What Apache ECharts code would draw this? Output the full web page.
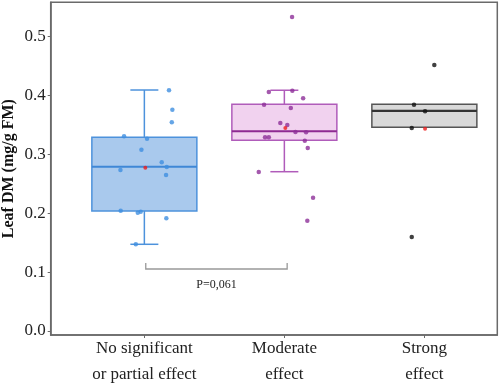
<!DOCTYPE html>
<html>
<head>
<meta charset="utf-8">
<script src="https://cdn.jsdelivr.net/npm/echarts@6/dist/echarts.min.js"></script>
<style>html,body{margin:0;padding:0;background:#fff}#c{width:500px;height:383px}</style>
</head>
<body>
<div id="c"></div>
<script>
// ---- data ----
var categories = ['No significant\nor partial effect', 'Moderate\neffect', 'Strong\neffect'];
var yTicks = [0, 0.1, 0.2, 0.3, 0.4, 0.5];
// box stats: [position, lowerWhisker, Q1, median, Q3, upperWhisker]
var boxStats = [
  [1, 0.1473, 0.2040, 0.2790, 0.3290, 0.4094],
  [2, 0.2706, 0.3240, 0.3393, 0.3852, 0.4090],
  [3, 0.3461, 0.3461, 0.3738, 0.3852, 0.3852]
];
// jittered points [x, value]
var pointsNoEffect = [
  [1.176, 0.409], [1.200, 0.376], [1.196, 0.3546], [0.855, 0.3308], [1.019, 0.3267],
  [0.979, 0.308], [1.124, 0.2866], [1.160, 0.2786], [0.829, 0.2735], [1.155, 0.265],
  [0.831, 0.2044], [0.953, 0.201], [0.974, 0.2027], [1.157, 0.1915], [0.939, 0.1473]
];
var pointsModerate = [
  [2.055, 0.5335], [1.889, 0.406], [2.057, 0.4083], [2.134, 0.3953], [1.855, 0.3845],
  [2.046, 0.3789], [1.971, 0.3534], [2.021, 0.350], [2.079, 0.3381], [2.155, 0.3376],
  [1.862, 0.3291], [1.889, 0.3291], [2.146, 0.3233], [2.167, 0.3109], [1.817, 0.2701],
  [2.205, 0.2265], [2.164, 0.1874]
];
var pointsStrong = [
  [3.071, 0.4519], [2.926, 0.3845], [3.005, 0.3733], [2.910, 0.3449], [2.910, 0.1597]
];
var means = [[1.007, 0.2774], [2.007, 0.3449], [3.005, 0.3436]];
// significance bracket
var bracketX = [1.01, 2.02];
var bracketY = [0.1053, 0.1155];
var bracketLabel = 'P=0,061';
var bracketLabelY = 0.078;

// ---- styles ----
var boxFill = ['#a9c9ed', '#f1d2ef', '#d9d9d9'];
var boxStroke = ['#4d92dc', '#b05cba', '#555555'];
var medianColor = ['#3f87d6', '#8e2a92', '#333333'];
var pointColor = ['#3f8fe0', '#8d2f98', '#111111'];
var serif = '"Liberation Serif","DejaVu Serif",serif';

var chart = echarts.init(document.getElementById('c'));

function renderBox(params, api) {
  var i = params.dataIndex;
  var x = api.value(0);
  var lo = api.coord([x, api.value(1)]);
  var q1 = api.coord([x, api.value(2)]);
  var md = api.coord([x, api.value(3)]);
  var q3 = api.coord([x, api.value(4)]);
  var hi = api.coord([x, api.value(5)]);
  var halfBox = (api.coord([x + 0.375, 0])[0] - api.coord([x, 0])[0]);
  var halfCap = (api.coord([x + 0.1, 0])[0] - api.coord([x, 0])[0]);
  var cx = q1[0];
  var stroke = boxStroke[i];
  var children = [];
  if (hi[1] < q3[1] - 0.5) {
    children.push({type: 'line', shape: {x1: cx, y1: q3[1], x2: cx, y2: hi[1]}, style: {stroke: stroke, lineWidth: 1.5}});
    children.push({type: 'line', shape: {x1: cx - halfCap, y1: hi[1], x2: cx + halfCap, y2: hi[1]}, style: {stroke: stroke, lineWidth: 1.5}});
  }
  if (lo[1] > q1[1] + 0.5) {
    children.push({type: 'line', shape: {x1: cx, y1: q1[1], x2: cx, y2: lo[1]}, style: {stroke: stroke, lineWidth: 1.5}});
    children.push({type: 'line', shape: {x1: cx - halfCap, y1: lo[1], x2: cx + halfCap, y2: lo[1]}, style: {stroke: stroke, lineWidth: 1.5}});
  }
  children.push({type: 'rect', shape: {x: cx - halfBox, y: q3[1], width: 2 * halfBox, height: q1[1] - q3[1]},
    style: {fill: boxFill[i], stroke: stroke, lineWidth: 1.5}});
  children.push({type: 'line', shape: {x1: cx - halfBox, y1: md[1], x2: cx + halfBox, y2: md[1]},
    style: {stroke: medianColor[i], lineWidth: 2.2}});
  return {type: 'group', children: children};
}

function renderBracket(params, api) {
  var a = api.coord([bracketX[0], bracketY[0]]);
  var b = api.coord([bracketX[1], bracketY[0]]);
  var at = api.coord([bracketX[0], bracketY[1]]);
  var bt = api.coord([bracketX[1], bracketY[1]]);
  var t = api.coord([(bracketX[0] + bracketX[1]) / 2, bracketLabelY]);
  return {type: 'group', children: [
    {type: 'polyline', shape: {points: [[at[0], at[1]], [a[0], a[1]], [b[0], b[1]], [bt[0], bt[1]]]},
      style: {stroke: '#999999', lineWidth: 1.3, fill: null}},
    {type: 'text', x: t[0], y: t[1], style: {text: bracketLabel, fill: '#222', font: '12px ' + serif, align: 'center', verticalAlign: 'middle'}}
  ]};
}

var option = {
  animation: false,
  backgroundColor: '#ffffff',
  grid: {left: 50.7, right: 2.7, top: 2.3, bottom: 48, containLabel: false, outerBoundsMode: 'none',
    show: true, borderColor: '#6a6a6a', borderWidth: 1.5, backgroundColor: 'transparent'},
  xAxis: {
    type: 'value', min: 0.331, max: 3.521,
    axisLine: {show: true, onZero: false, lineStyle: {color: '#6a6a6a', width: 1.5}},
    axisTick: {show: true, customValues: [1, 2, 3], length: 3, lineStyle: {color: '#6a6a6a'}},
    axisLabel: {customValues: [1, 2, 3], formatter: function (v) { return categories[Math.round(v) - 1]; },
      fontFamily: serif, fontSize: 17, color: '#222', lineHeight: 26, margin: 1},
    splitLine: {show: false}
  },
  yAxis: {
    type: 'value', min: -0.0068, max: 0.5584,
    name: 'Leaf DM (mg/g FM)', nameLocation: 'middle', nameGap: 34, nameRotate: 90, nameMoveOverlap: false,
    nameTextStyle: {fontFamily: serif, fontSize: 16, fontWeight: 'bold', color: '#111'},
    axisLine: {show: true, onZero: false, lineStyle: {color: '#6a6a6a', width: 1.5}},
    axisTick: {show: true, customValues: yTicks, length: 3, lineStyle: {color: '#6a6a6a'}},
    axisLabel: {customValues: yTicks, formatter: function (v) { return v.toFixed(1); },
      fontFamily: serif, fontSize: 17, color: '#222', margin: 5},
    splitLine: {show: false}
  },
  series: [
    {type: 'custom', renderItem: renderBox, data: boxStats, encode: {x: 0, y: [1, 2, 3, 4, 5]}, z: 2},
    {type: 'scatter', data: pointsNoEffect, symbolSize: 4.5, itemStyle: {color: pointColor[0]}, z: 3},
    {type: 'scatter', data: pointsModerate, symbolSize: 4.5, itemStyle: {color: pointColor[1]}, z: 3},
    {type: 'scatter', data: pointsStrong, symbolSize: 4.5, itemStyle: {color: pointColor[2]}, z: 3},
    {type: 'scatter', data: means, symbolSize: 4, itemStyle: {color: '#ee1c1c'}, z: 4},
    {type: 'custom', renderItem: renderBracket, data: [[bracketX[0], bracketY[0]]], encode: {x: 0, y: 1}, z: 2, silent: true}
  ]
};
chart.setOption(option);
</script>
</body>
</html>
